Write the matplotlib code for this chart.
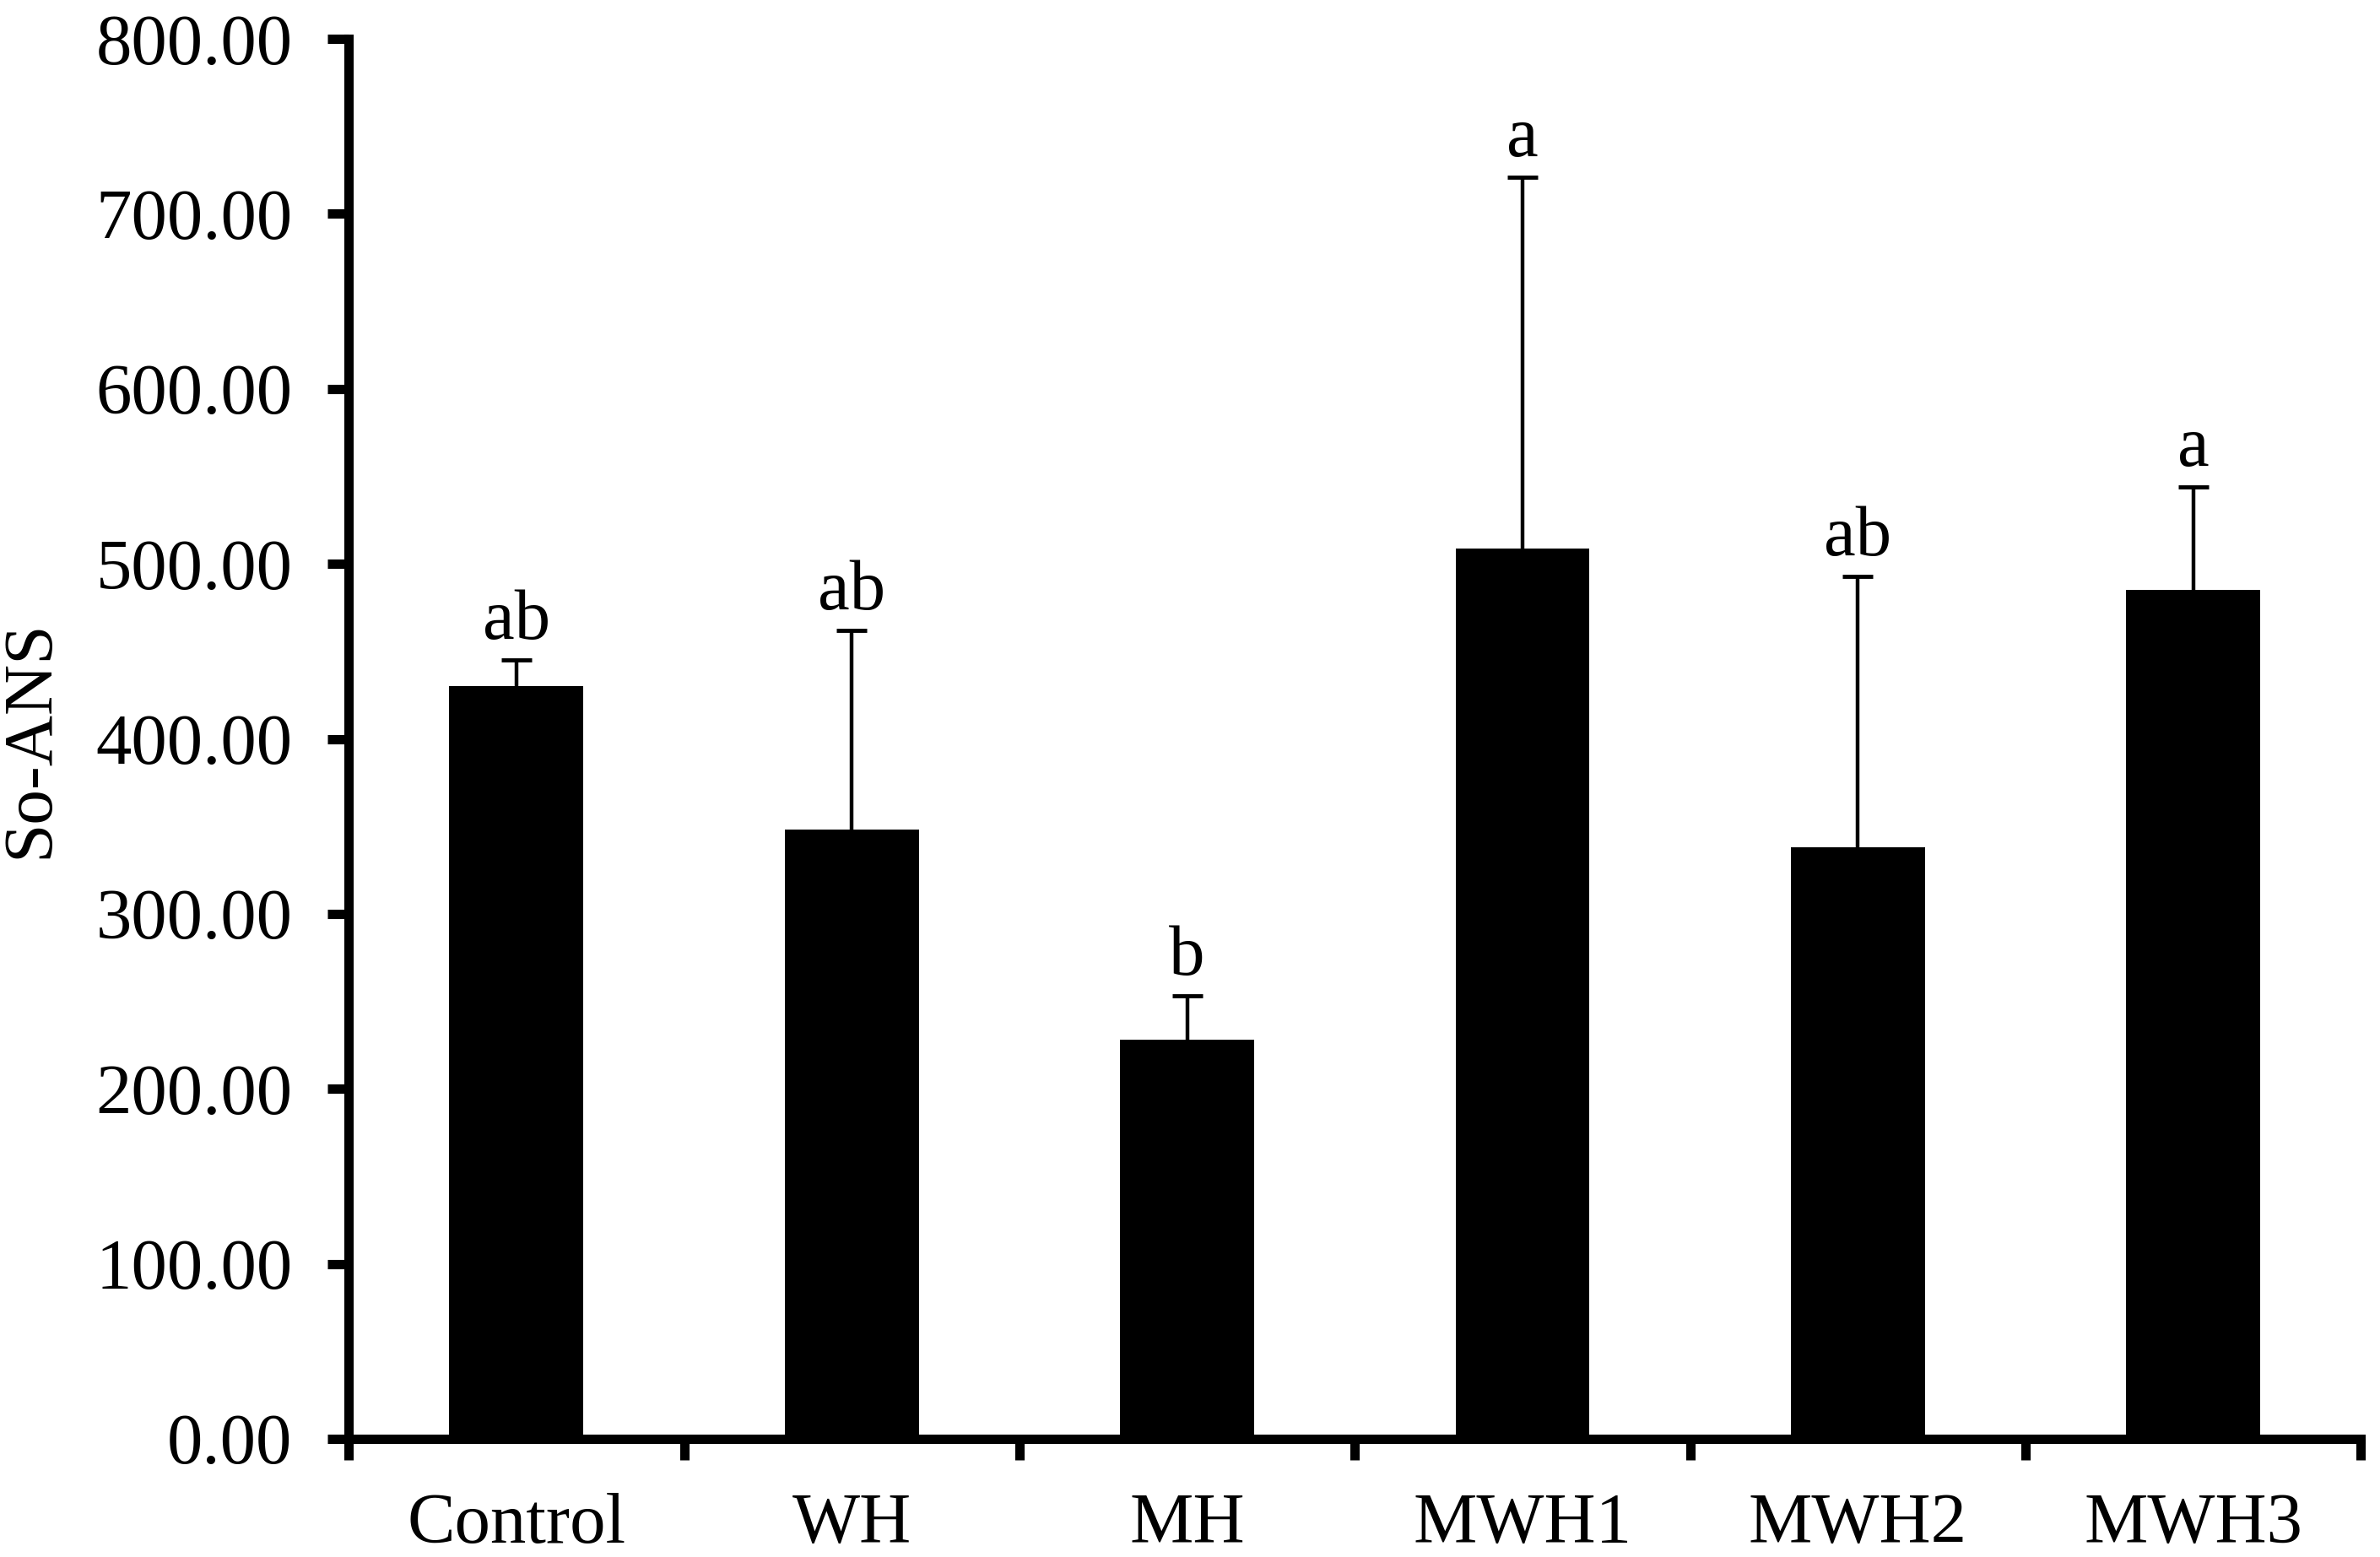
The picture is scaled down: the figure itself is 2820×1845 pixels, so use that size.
import matplotlib
matplotlib.use("Agg")
import matplotlib.pyplot as plt
import numpy as np

categories = ["Control", "WH", "MH", "MWH1", "MWH2", "MWH3"]
means = [430, 348, 228, 509, 338, 485]
upper = [445, 462, 253, 721, 493, 544]
letters = ["ab", "ab", "b", "a", "ab", "a"]

plt.rcParams['font.family'] = ['Liberation Serif', 'DejaVu Serif']

fig = plt.figure(figsize=(28.2, 18.45), dpi=100)
ax = fig.add_axes([0.1465, 0.0759, 0.992 - 0.1465, 0.975 - 0.0759])

x = np.arange(len(categories))
err = np.array(upper) - np.array(means)
ax.bar(x, means, width=0.4, color='black', zorder=2)
eb = ax.errorbar(x, means, yerr=[np.zeros_like(err), err], fmt='none', ecolor='black',
                 elinewidth=3.2, capsize=13, capthick=3.5, zorder=3)
# hide the lower caps (sitting on bar tops)
for cl in eb[1]:
    yd = np.asarray(cl.get_ydata(), dtype=float)
    if np.allclose(yd, means):
        cl.set_visible(False)

for xi, top, lab in zip(x, upper, letters):
    ax.annotate(lab, (xi, top), xytext=(0, 18), textcoords='offset points',
                ha='center', va='baseline', fontsize=61)

ax.set_xlim(-0.5, len(categories) - 0.5)
ax.set_ylim(0, 800)
ax.set_yticks(np.arange(0, 801, 100))
ax.set_yticklabels([f"{v:.2f}" for v in np.arange(0, 801, 100)])
ax.set_xticks(np.arange(-0.5, len(categories), 1.0))
ax.set_xticklabels([])
ax.set_xticks(x, minor=True)
ax.set_xticklabels(categories, minor=True)

for s in ['top', 'right']:
    ax.spines[s].set_visible(False)
for s in ['left', 'bottom']:
    ax.spines[s].set_linewidth(8)

ax.tick_params(axis='both', which='major', direction='out', length=18, width=8, labelsize=61)
ax.tick_params(axis='y', pad=30)
ax.tick_params(axis='x', which='minor', length=0, labelsize=61, pad=46)

ax.set_ylabel("So-ANS", fontsize=60, labelpad=28)

fig.savefig("out.png", dpi=100)
